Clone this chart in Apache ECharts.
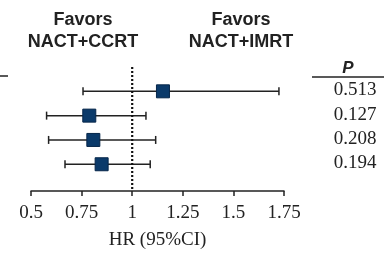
<!DOCTYPE html>
<html>
<head>
<meta charset="utf-8">
<script src="https://cdn.jsdelivr.net/npm/echarts@6/dist/echarts.min.js"></script>
<style>
  html, body { margin: 0; padding: 0; background: #fff; }
  #main { width: 385px; height: 255px; }
</style>
</head>
<body>
<div id="main"></div>
<script>
// forest plot data (rows top to bottom)
const rows = [1, 2, 3, 4];
const hr = [1.152, 0.788, 0.808, 0.849];
const lower = [0.757, 0.577, 0.587, 0.668];
const upper = [1.725, 1.068, 1.116, 1.089];
const pValues = ['0.513', '0.127', '0.208', '0.194'];
const xTicks = [0.5, 0.75, 1, 1.25, 1.5, 1.75];

window.onload = function () {
  const chartDom = document.getElementById('main');
  const myChart = echarts.init(chartDom);

  const ciData = rows.map(function (r, i) {
    return [lower[i], upper[i], r, pValues[i]];
  });
  const pointData = rows.map(function (r, i) {
    return [hr[i], r];
  });

  const option = {
    animation: false,
    grid: { left: 31, right: 101, top: 67, bottom: 58 },
    xAxis: {
      type: 'value',
      min: 0.5,
      max: 1.75,
      interval: 0.25,
      name: 'HR (95%CI)',
      nameLocation: 'middle',
      nameGap: 40,
      nameTextStyle: { fontFamily: 'Liberation Serif', fontSize: 19, color: '#222' },
      axisLine: { onZero: false, lineStyle: { color: '#222', width: 1.5 } },
      axisTick: { show: true, length: 5, lineStyle: { color: '#222', width: 1.5 } },
      axisLabel: {
        margin: 13,
        fontFamily: 'Liberation Serif',
        fontSize: 19,
        color: '#222',
        formatter: function (v) { return xTicks.indexOf(v) >= 0 ? String(v) : ''; }
      },
      splitLine: { show: false }
    },
    yAxis: {
      type: 'value',
      min: 0,
      max: 5.1,
      inverse: true,
      show: false
    },
    series: [
      {
        // reference line at HR = 1
        type: 'line',
        data: [[1, 0], [1, 5.1]],
        symbol: 'none',
        lineStyle: { color: '#111', width: 2.2, type: [2, 2] },
        silent: true
      },
      {
        // confidence intervals and P values
        type: 'custom',
        data: ciData,
        renderItem: function (params, api) {
          const a = api.coord([api.value(0), api.value(2)]);
          const b = api.coord([api.value(1), api.value(2)]);
          const cap = 4;
          const st = { stroke: '#222', lineWidth: 1.5 };
          return {
            type: 'group',
            children: [
              { type: 'line', shape: { x1: a[0], y1: a[1], x2: b[0], y2: b[1] }, style: st },
              { type: 'line', shape: { x1: a[0], y1: a[1] - cap, x2: a[0], y2: a[1] + cap }, style: st },
              { type: 'line', shape: { x1: b[0], y1: b[1] - cap, x2: b[0], y2: b[1] + cap }, style: st },
              {
                type: 'text',
                style: {
                  x: 355, y: a[1] - 1,
                  text: api.value(3),
                  fill: '#222',
                  font: '19px "Liberation Serif"',
                  align: 'center',
                  verticalAlign: 'middle'
                }
              }
            ]
          };
        },
        z: 2
      },
      {
        type: 'scatter',
        data: pointData,
        symbol: 'rect',
        symbolSize: 13,
        itemStyle: { color: '#0b3a6a', borderColor: '#06264a', borderWidth: 1, opacity: 1 },
        z: 3
      }
    ],
    graphic: [
      {
        type: 'text',
        style: { x: 83, y: 9, text: 'Favors\nNACT+CCRT', font: 'bold 18px "Liberation Sans"', fill: '#222', align: 'center', lineHeight: 22 }
      },
      {
        type: 'text',
        style: { x: 241, y: 9, text: 'Favors\nNACT+IMRT', font: 'bold 18px "Liberation Sans"', fill: '#222', align: 'center', lineHeight: 22 }
      },
      {
        type: 'text',
        style: { x: 348, y: 60, text: 'P', font: 'italic bold 17px "Liberation Sans"', fill: '#222', align: 'center' }
      },
      { type: 'line', shape: { x1: 0, y1: 76, x2: 8, y2: 76 }, style: { stroke: '#222', lineWidth: 1.5 } },
      { type: 'line', shape: { x1: 312, y1: 77, x2: 384, y2: 77 }, style: { stroke: '#222', lineWidth: 1.5 } }
    ]
  };
  option && myChart.setOption(option);
};
</script>
</body>
</html>
